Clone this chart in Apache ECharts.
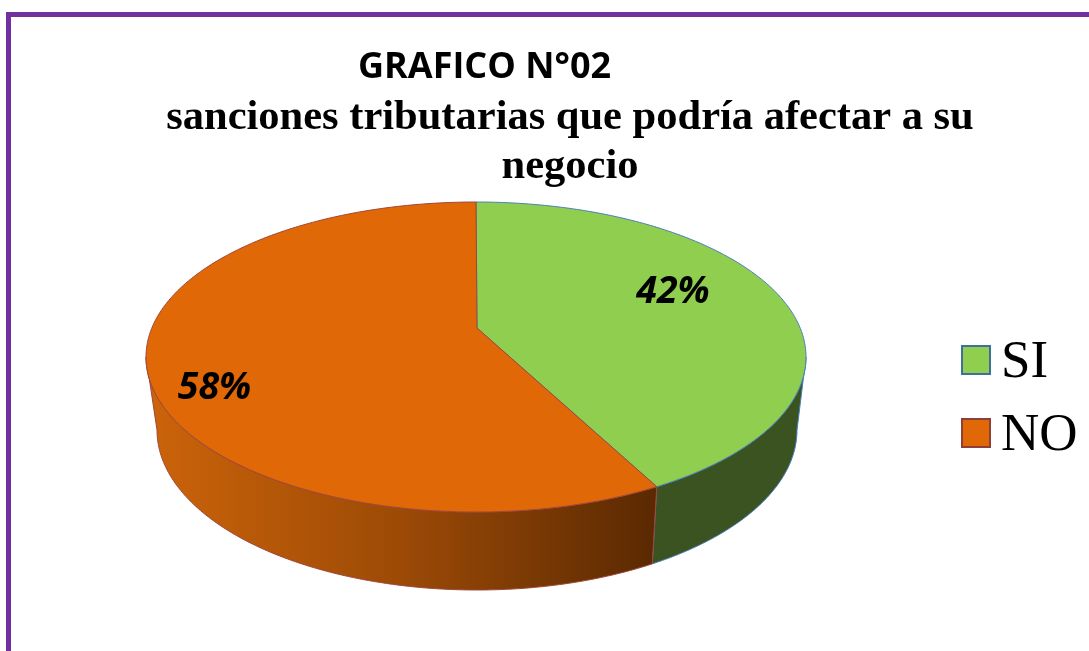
<!DOCTYPE html>
<html>
<head>
<meta charset="utf-8">
<style>html,body{margin:0;padding:0;background:#fff}#c{width:1089px;height:651px}</style>
<script src="https://cdn.jsdelivr.net/npm/echarts@6/dist/echarts.min.js"></script>
</head>
<body>
<div id="c"></div>
<script>
const categories = ['SI', 'NO'];
const values = [42, 58];
const percentLabels = ['42%', '58%'];
const titleTop = 'GRAFICO N°02';
const titleMain = 'sanciones tributarias que podría afectar a su\nnegocio';

const topColors = ['#90ce50', '#e06806'];
const edgeColors = ['#4a7ebb', '#a0463c'];
const legendEdges = ['#3f6f9f', '#8f3f36'];
const labelPos = [[673, 292], [214.5, 388]];
const sideFills = [
  new echarts.graphic.LinearGradient(0, 0, 1, 0, [{offset: 0, color: '#3b5321'}, {offset: 1, color: '#3b5321'}]),
  new echarts.graphic.LinearGradient(0, 0, 1, 0, [{offset: 0, color: '#cc640a'}, {offset: 0.5, color: '#9c4a06'}, {offset: 1, color: '#5a2902'}])
];

const TOP = {cx: 476, cy: 357, rx: 330, ry: 155};
const LOW = {cx: 477, cy: 430, rx: 320, ry: 160};
const APEX = [477, 328];
const PERSPECTIVE = 0.861;
const total = values.reduce((a, b) => a + b, 0);

function warp(frac) {
  const t = frac * Math.PI;
  return 2 * Math.atan2(PERSPECTIVE * Math.sin(t), Math.cos(t));
}
function arc(e, a0, a1) {
  const n = Math.max(2, Math.ceil(Math.abs(a1 - a0) / 0.01));
  const pts = [];
  for (let i = 0; i <= n; i++) {
    const a = a0 + (a1 - a0) * i / n;
    pts.push([e.cx + e.rx * Math.sin(a), e.cy - e.ry * Math.cos(a)]);
  }
  return pts;
}
function renderSlice(params, api) {
  const i = params.seriesIndex;
  const before = values.slice(0, i).reduce((a, b) => a + b, 0);
  const a0 = warp(before / total);
  const a1 = warp((before + api.value(0)) / total);
  const children = [];
  const s0 = Math.max(a0, Math.PI / 2);
  const s1 = Math.min(a1, Math.PI * 1.5);
  if (s1 > s0) {
    children.push({
      type: 'polygon',
      shape: {points: arc(TOP, s0, s1).concat(arc(LOW, s1, s0))},
      style: {fill: sideFills[i], stroke: edgeColors[i], lineWidth: 1, lineJoin: 'round'}
    });
  }
  children.push({
    type: 'polygon',
    shape: {points: [APEX].concat(arc(TOP, a0, a1))},
    style: {fill: topColors[i], stroke: edgeColors[i], lineWidth: 1, lineJoin: 'round'}
  });
  children.push({
    type: 'text',
    z2: 10,
    style: {
      x: labelPos[i][0], y: labelPos[i][1], text: percentLabels[i],
      align: 'center', verticalAlign: 'middle', fill: '#000',
      font: 'italic bold 37.5px "Open Sans"'
    }
  });
  return {type: 'group', children};
}

const chart = echarts.init(document.getElementById('c'), null, {renderer: 'canvas'});
chart.setOption({
  animation: false,
  backgroundColor: '#fff',
  title: [
    {text: titleTop, left: 358, top: 50, padding: 0,
     textStyle: {fontFamily: 'Open Sans', fontWeight: 'bold', fontSize: 36, color: '#000'}},
    {text: titleMain, left: 570, top: 94, padding: 0, textAlign: 'center',
     textStyle: {fontFamily: 'Liberation Serif', fontWeight: 'bold', fontSize: 42.5, lineHeight: 49, color: '#000'}}
  ],
  legend: {
    orient: 'vertical', left: 961, top: 337, padding: 0, itemGap: 20,
    itemWidth: 28, itemHeight: 28,
    selectedMode: false,
    formatter: '{t|{name}}',
    textStyle: {
      color: '#000',
      rich: {t: {fontFamily: 'Liberation Serif', fontSize: 53, color: '#000', padding: [7, 0, 0, 6]}}
    },
    data: categories.map((name, i) => ({
      name, icon: 'rect',
      itemStyle: {color: topColors[i], borderColor: legendEdges[i], borderWidth: 2}
    }))
  },
  graphic: [{
    type: 'rect', silent: true, z: -1,
    shape: {x: 8.5, y: 14.5, width: 1300, height: 900},
    style: {fill: 'none', stroke: '#7030a0', lineWidth: 5}
  }],
  series: categories.map((name, i) => ({
    type: 'custom', name, coordinateSystem: 'none', silent: true,
    renderItem: renderSlice,
    itemStyle: {color: topColors[i]},
    data: [[values[i]]]
  }))
});
</script>
</body>
</html>
